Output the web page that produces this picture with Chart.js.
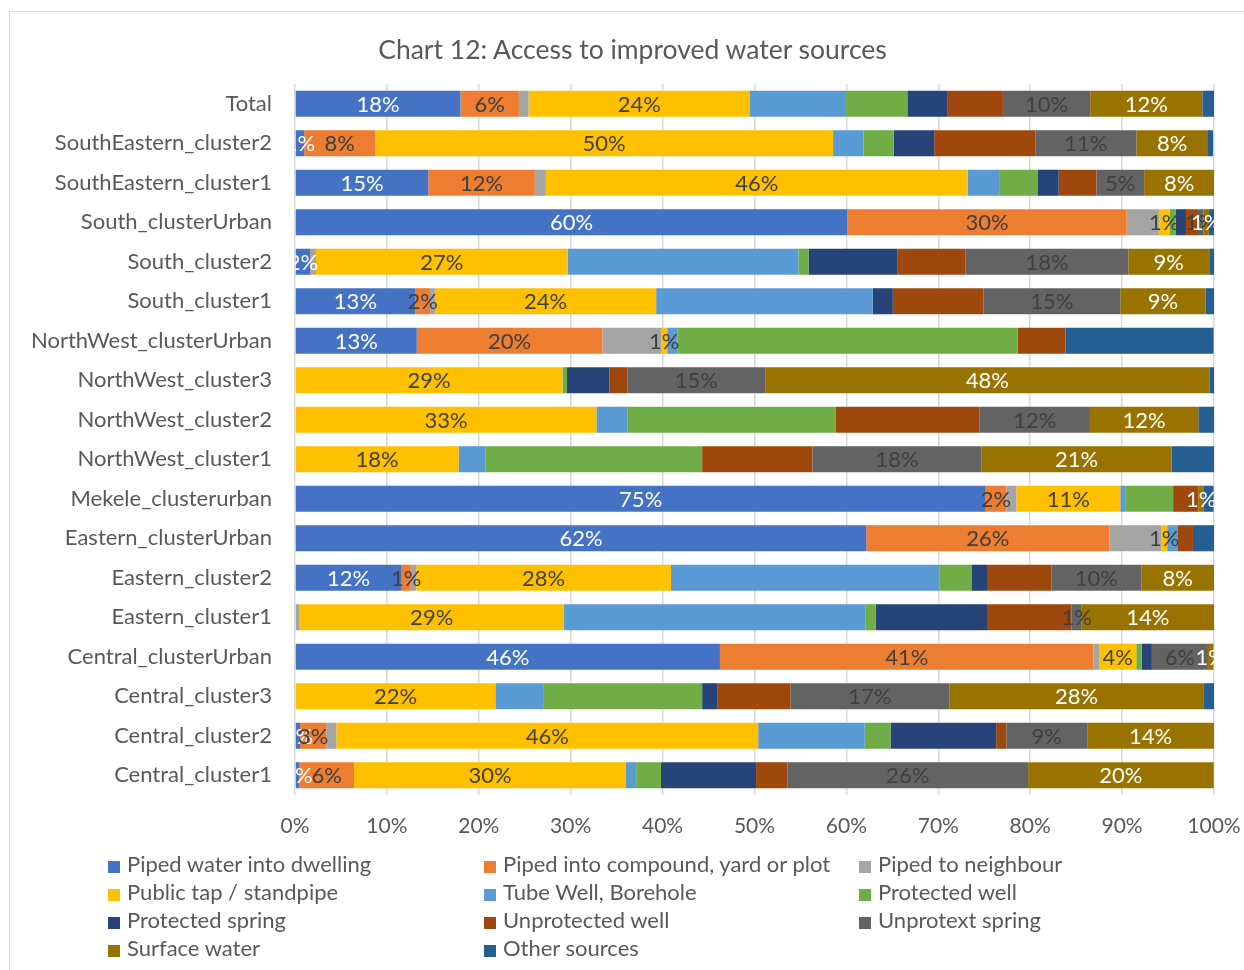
<!DOCTYPE html>
<html>
<head>
<meta charset="utf-8">
<script src="https://cdn.jsdelivr.net/npm/chart.js@4/dist/chart.umd.min.js"></script>
<style>
  body { margin: 0; background: #fff; font-family: Lato, sans-serif; }
  #frame { position: absolute; left: 9px; top: 11px; width: 1250px; height: 980px; border: 1px solid #d9d9d9; }
  #chart { position: absolute; left: 0; top: 0; }
  #title { position: absolute; left: 0; width: 1265px; top: 32px; text-align: center;
           color: #595959; font-size: 26.5px; line-height: 34px; }
  #legend { position: absolute; left: 108px; top: 850px; display: grid;
            grid-template-columns: 376px 375px 370px; color: #595959; font-size: 22px; }
  #legend div { height: 28px; line-height: 28px; white-space: nowrap; }
  #legend span { display: inline-block; width: 12px; height: 12px; margin-right: 7px; vertical-align: -1px; }
</style>
</head>
<body>
<div id="frame"></div>
<canvas id="chart" width="1244" height="970"></canvas>
<div id="title">Chart 12: Access to improved water sources</div>
<div id="legend"></div>
<script>
// Categories, top to bottom
let categories = ['Total', 'SouthEastern_cluster2', 'SouthEastern_cluster1', 'South_clusterUrban',
    'South_cluster2', 'South_cluster1', 'NorthWest_clusterUrban', 'NorthWest_cluster3',
    'NorthWest_cluster2', 'NorthWest_cluster1', 'Mekele_clusterurban', 'Eastern_clusterUrban',
    'Eastern_cluster2', 'Eastern_cluster1', 'Central_clusterUrban', 'Central_cluster3',
    'Central_cluster2', 'Central_cluster1'];

// Shares in percent, one value per category
let pipedDwelling   = [18.0, 1.0, 14.5, 60.1, 1.63, 13.07, 13.25, 0, 0, 0, 75.15, 62.16, 11.6, 0, 46.24, 0, 0.55, 0.47];
let pipedCompound   = [6.36, 7.7, 11.6, 30.4, 0, 1.63, 20.2, 0, 0, 0, 2.25, 26.45, 1.0, 0, 40.65, 0, 2.85, 5.95];
let pipedNeighbour  = [1.05, 0, 1.2, 3.5, 0.65, 0.55, 6.4, 0, 0, 0, 1.1, 5.65, 0.6, 0.5, 0.6, 0, 1.1, 0];
let publicTap       = [24.1, 49.85, 45.9, 1.15, 27.4, 24.05, 0.65, 29.1, 32.8, 17.8, 11.3, 0.65, 27.7, 28.75, 4.05, 21.8, 45.9, 29.6];
let tubeWell        = [10.45, 3.3, 3.5, 0, 25.1, 23.55, 1.15, 0, 3.4, 2.9, 0.6, 1.1, 29.25, 32.8, 0, 5.2, 11.6, 1.1];
let protectedWell   = [6.67, 3.3, 4.15, 0.7, 1.1, 0, 37.0, 0.5, 22.6, 23.6, 5.15, 0, 3.45, 1.15, 0.6, 17.3, 2.8, 2.7];
let protectedSpring = [4.4, 4.4, 2.25, 1.1, 9.7, 2.2, 0, 4.6, 0, 0, 0, 0, 1.7, 12.1, 1.1, 1.7, 11.5, 10.35];
let unprotectedWell = [6.0, 11.0, 4.1, 1.2, 7.4, 9.85, 5.2, 1.96, 15.7, 12.0, 2.75, 1.7, 7.0, 9.2, 0, 7.9, 1.1, 3.4];
let unprotextSpring = [9.5, 11.0, 5.2, 0.7, 17.7, 14.9, 0, 15.0, 12.0, 18.4, 0, 0, 9.8, 1.1, 6.1, 17.3, 8.8, 26.2];
let surfaceWater    = [12.2, 7.8, 7.6, 0.6, 8.8, 9.3, 0, 48.35, 11.8, 20.7, 0.6, 0, 7.9, 14.4, 0.6, 27.7, 13.8, 20.2];
let otherSources    = [1.3, 0.55, 0, 0.6, 0.55, 1.0, 16.1, 0.5, 1.7, 4.6, 1.05, 2.3, 0, 0, 0, 1.1, 0, 0];

let xTicks = [0, 10, 20, 30, 40, 50, 60, 70, 80, 90, 100];

const dark = '#404040';
const datasets = [
    { label: 'Piped water into dwelling', data: pipedDwelling, backgroundColor: '#4472C4', labelColor: '#ffffff' },
    { label: 'Piped into compound, yard or plot', data: pipedCompound, backgroundColor: '#ED7D31', labelColor: dark },
    { label: 'Piped to neighbour', data: pipedNeighbour, backgroundColor: '#A5A5A5' },
    { label: 'Public tap / standpipe', data: publicTap, backgroundColor: '#FFC000', labelColor: dark },
    { label: 'Tube Well, Borehole', data: tubeWell, backgroundColor: '#5B9BD5' },
    { label: 'Protected well', data: protectedWell, backgroundColor: '#70AD47' },
    { label: 'Protected spring', data: protectedSpring, backgroundColor: '#264478' },
    { label: 'Unprotected well', data: unprotectedWell, backgroundColor: '#9E480E' },
    { label: 'Unprotext spring', data: unprotextSpring, backgroundColor: '#636363', labelColor: dark },
    { label: 'Surface water', data: surfaceWater, backgroundColor: '#997300', labelColor: '#ffffff' },
    { label: 'Other sources', data: otherSources, backgroundColor: '#255E91' }
];

// data labels drawn in the middle of each segment
const barLabels = {
    id: 'barLabels',
    afterDatasetsDraw(chart) {
        const ctx = chart.ctx;
        const area = chart.chartArea;
        ctx.save();
        ctx.beginPath();
        ctx.rect(area.left, area.top, area.right - area.left, area.bottom - area.top);
        ctx.clip();
        ctx.font = '22px Lato';
        ctx.textAlign = 'center';
        ctx.textBaseline = 'middle';
        chart.data.datasets.forEach(function(ds, i) {
            if (!ds.labelColor) return;
            ctx.fillStyle = ds.labelColor;
            chart.getDatasetMeta(i).data.forEach(function(bar, j) {
                const v = ds.data[j];
                if (!v) return;
                ctx.fillText(Math.round(v) + '%', (bar.x + bar.base) / 2, bar.y + 1);
            });
        });
        ctx.restore();
    }
};

const chart = new Chart(document.getElementById('chart'), {
    type: 'bar',
    data: { labels: categories, datasets: datasets },
    plugins: [barLabels],
    options: {
        indexAxis: 'y',
        responsive: false,
        animation: false,
        categoryPercentage: 1,
        barPercentage: 0.66,
        layout: { padding: { left: 0, right: 30, top: 84, bottom: 130 } },
        plugins: {
            legend: { display: false },
            tooltip: { enabled: false },
            title: { display: false }
        },
        scales: {
            x: {
                stacked: true,
                min: 0,
                max: 100,
                afterBuildTicks: function(scale) {
                    scale.ticks = xTicks.map(function(v) { return { value: v }; });
                },
                afterFit: function(scale) {
                    scale.height = 45;
                    scale.paddingLeft = 0;
                    scale.paddingRight = 0;
                },
                ticks: {
                    color: '#595959',
                    font: { family: 'Lato', size: 21 },
                    padding: 19,
                    callback: function(v) { return v + '%'; }
                },
                grid: { color: '#d9d9d9', lineWidth: 1.5, drawTicks: false },
                border: { display: false }
            },
            y: {
                stacked: true,
                afterFit: function(scale) { scale.width = 295; },
                ticks: { color: '#595959', font: { family: 'Lato', size: 22 }, padding: 15 },
                grid: { display: false },
                border: { display: false }
            }
        }
    }
});

// legend in three columns
const legend = document.getElementById('legend');
datasets.forEach(function(ds) {
    const item = document.createElement('div');
    const box = document.createElement('span');
    box.style.background = ds.backgroundColor;
    item.appendChild(box);
    item.appendChild(document.createTextNode(ds.label));
    legend.appendChild(item);
});
</script>
</body>
</html>
